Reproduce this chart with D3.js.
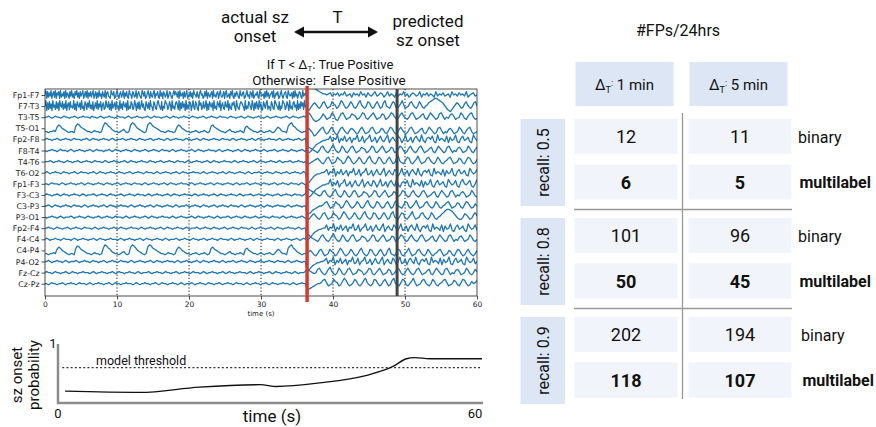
<!DOCTYPE html>
<html><head><meta charset="utf-8">
<script src="https://cdn.jsdelivr.net/npm/d3@7"></script>
<style>body{margin:0;background:#fff}svg{display:block}</style>
</head><body><svg id="c" width="876" height="427"></svg>
<script>
// ---------------- DATA ----------------
const channels = ["Fp1-F7","F7-T3","T3-T5","T5-O1","Fp2-F8","F8-T4","T4-T6","T6-O2","Fp1-F3","F3-C3","C3-P3","P3-O1","Fp2-F4","F4-C4","C4-P4","P4-O2","Fz-Cz","Cz-Pz"];
const xTicks = [0,10,20,30,40,50,60];
const gridTimes = [10,20,30,40,50];
const onsetTime = 36.4;      // actual sz onset (s)
const predictedTime = 48.9;  // predicted sz onset (s)
// per-channel DC offset (signal units)
const dcOffset = [0,0,0,-3,0,0,0,0,0,0,0,0,0,0,-3,0,0,0];
// traces, one char per sample; 'M' = 0, each letter step = 1 unit
const preTraces = [
"MQJPKOLQJNPKQJOMPJQKNLPJQKOMJPLQKNJPMQKOJPLNQJMPKQJOLPKNQJMPJOKQLNJPMKQJOPLKJQNMPJKOQLJNPKMQJOLPKJQNMJPOKLQJNPMKJQOLPJKNQMJPLKOQJNMPKJQLOJPNKMQJLPOKJNQMPNKPJQLMOJPKNQJMLPKOJQNMKPLJOQMNJKPLQJOMKNPJQLMKOPJNQLKMPJOQKLNJPMQKJOLPNKJQMLOPJKNQLMJPOKQJLNMPKJQOLMNJPKQLOJMNPKQJLOMPJKNQLJMOPKJQNLMOJPKQLNJMPOKJQLNMP",
"MRIPJQKOIRLNJQKPIRMLQJOKRINPJQLMKRJOIQNLPJRKMIQOJPLRKNJQIMPKRJOLQINPJKRMLQJOIRKNPJQLMIRKOJQNLPIRJMKQOJLRNIPKQJMRLOJIQNKPJRMLIQOKJPRNLJQIMKRPOJLQNIRKMJPQNJRIPKQLOIRJNKQPIMRLJQOKIRNPJLQKMRIOJQNLPIRKMJQOLRINPKJQMLRIOKJPNQLIRMKJOQPNLIRJMKQOLJRNIPKQMJRLOIJQNKPRJMLIQOKJRPNLJQIMKRPOJLQNIRKMJPQLNIRJOKQMPJRLN",
"MMNMLMNMMLMNMMLMMNMLMMNMMMLNMMLMNMLMMNMMLMNMMMLMNMLMMNMMLMMNMLMNMMMLMMNMLMNMMLMMNMMLMNMMLMMNMLMMNMMLMNMMMLMNMMLMMNMLMNMMLMMNMMLMNMLMMNMMLMMNMLMNMMLMMNM",
"MMLMMNMQSRPONMLMMLRTSQPONMMLMNMMLMRUTRQONMMLMNOMLMSUTRPONMLMSUTRQPONMMLMNMMLMQSRPONMMLMMNMLMMNMLMRSQPONMMLMNOMMLMMNMLQRPONMMLMNMLMMNMLMOQPNMMLRTURQONMLMM",
"MNMMLMMNMLMMNMMLMNMMMLMMNMLMNMMLMMNMMLMNMLMMMNMLMMNMMLMNMMLMMNMLMMNMMLMNMLMMNMMMLMNMMLMMNMLMNMMLMMNMMLMNMMMLMNMLMMNMMLMMNMLMNMMLMMNMMMLMNMLMMNMMLMMNMLMN",
"MLMMNMMLMNMMMLMNMLMMNMMLMMNMLMNMMMLMMNMLMNMMLMMNMMLMNMMLMMNMLMMNMMLMNMMMLMNMLMMNMMLMMNMLMNMMLMMNMMMLMNMLMMNMMLMMNMLMNMMLMMNMMLMNMLMMMNMLMMNMMLMNMMLMMNML",
"MMMNMLMMNMMLMNMMLMMNMLMMNMMLMNMMMLMNMLMMNMMLMMNMLMNMMLMMNMMLMNMMLMMNMLMMNMMLMNMMMLMNMLMMNMMLMMNMLMNMMLMMNMMMLMNMLMMNMMLMMNMLMNMMLMMNMMLMNMLMMMNMLMMNMMLM",
"MNMLMMNMMLMNMMLMMNMLMNMMMLMMNMLMNMMLMMNMMLMNMMLMMNMLMMNMMLMNMMMLMNMLMMNMMLMMNMLMNMMLMMNMMMLMNMLMMNMMLMMNMLMNMMLMMNMMLMNMLMMMNMLMMNMMLMNMMLMMNMLMMNMMLMNM",
"MMLMNMMMLMNMLMMNMMLMMNMLMNMMLMMNMMLMNMMLMMNMLMMNMMLMNMMMLMNMLMMNMMLMMNMLMNMMLMMNMMMLMNMLMMNMMLMMNMLMNMMLMMNMMLMNMLMMMNMLMMNMMLMNMMLMMNMLMMNMMLMNMMMLMNML",
"MNMMLMMNMLMNMMLMMNMMLMNMLMMMNMLMMNMMLMNMMLMMNMLMMNMMLMNMMMLMNMLMMNMMLMMNMLMNMMLMMNMMMLMNMLMMNMMLMMNMLMNMMLMMNMMLMNMLMMMNMLMMNMMLMNMMLMMNMLMMNMMLMNMMMLMN",
"MMNMLMNMMLMMNMMLMNMMMLMNMLMMNMMLMMNMLMNMMLMMNMMMLMNMLMMNMMLMMNMLMNMMLMMNMMLMNMLMMMNMLMMNMMLMNMMLMMNMLMMNMMLMNMMMLMNMLMMNMMLMMNMLMNMMLMMNMMMLMNMLMMNMMLMM",
"MLMMNMMLMNMLMMMNMLMMNMMLMNMMLMMNMLMMNMMLMNMMMLMNMLMMNMMLMMNMLMNMMLMMNMMMLMNMLMMNMMLMMNMLMNMMLMMNMMLMNMLMMMNMLMMNMMLMNMMLMMNMLMMNMMLMNMMMLMNMLMMNMMLMMNML",
"MMNMMLMNMMLMMNMLMMNMMLMNMMMLMNMLMMNMMLMMNMLMNMMLMMNMMMLMNMLMMNMMLMMNMLMNMMLMMNMMLMNMLMMMNMLMMNMMLMNMMLMMNMLMMNMMLMNMMMLMNMLMMNMMLMMNMLMNMMLMMNMMMLMNMLMM",
"MNMLMMNMMLMNMMMLMNMLMMNMMLMMNMLMNMMLMMNMMMLMNMLMMNMMLMMNMLMNMMLMMNMMLMNMLMMMNMLMMNMMLMNMMLMMNMLMMNMMLMNMMMLMNMLMMNMMLMMNMLMNMMLMMNMMMLMNMLMMNMMLMMNMLMNM",
"MMLMMNMQSRPONMLMMLRTSQPONMMLMNMMLMRUTRQONMMLMNOMLMSUTRPONMLMSUTRQPONMMLMNMMLMQSRPONMMLMMNMLMMNMLMRSQPONMMLMNOMMLMMNMLQRPONMMLMNMLMMNMLMOQPNMMLRTURQONMLMM",
"MMNMLMMNMMLMNMLMMMNMLMMNMMLMNMMLMMNMLMMNMMLMNMMMLMNMLMMNMMLMMNMLMNMMLMMNMMMLMNMLMMNMMLMMNMLMNMMLMMNMMLMNMLMMMNMLMMNMMLMNMMLMMNMLMMNMMLMNMMMLMNMLMMNMMLMM",
"MNMMLMNMMLMMNMLMNMMLMMNMMMLMNMLMMNMMLMMNMLMNMMLMMNMMLMNMLMMMNMLMMNMMLMNMMLMMNMLMMNMMLMNMMMLMNMLMMNMMLMMNMLMNMMLMMNMMMLMNMLMMNMMLMMNMLMNMMLMMNMMLMNMLMMMN",
"MMLMNMMLMMNMLMMNMMLMNMMMLMNMLMMNMMLMMNMLMNMMLMMNMMMLMNMLMMNMMLMMNMLMNMMLMMNMMLMNMLMMMNMLMMNMMLMNMMLMMNMLMMNMMLMNMMMLMNMLMMNMMLMMNMLMNMMLMMNMMMLMNMLMMNMM"
];
const postTraces = [
"TVUTSRQPONNMNOLNMOLNMPLMNKOMNLPMNKOMLNPLMONKMPLNMKOLNMPLNKMONLMPKNMOLNMKPLNMOLMNKPMNLOMNLPKMNOLM",
"JIKMOPNLKMPQNKLMQONKLORPMKLNQOLKMPRNLKMQPMKLOQNKLPRMLKNQPLKMORNKLMPQNLKMQOLKMNPQRSTTSRQPNLJIHJLNPOMKLOQNLKMPQM",
"PQOLJIJKMPNKLMQOKJMPQNKLMPONKLNQPLKMOQNKLMPOKLNQPMKLOQNLKMPQNKLMOPLKNQOMKLPQNKMLOPNKLMQOLKNPQMKL",
"NPNLIJLNPQMKLOQNKJMPQNLKNPOMKLOQNKLMPQNKLMPOLKNQPMKLOQNLKMPQNKLMOPLKNQOMKLPQNKMLOPNKLMQOLKNPQMKLM",
"AABDFHIJKLLMMPKNMQJNLPKMOJNMQKLPJMNQKLOJMPLKNQJMOLKPNJMQKLOJNPMKQLJNOMPKJQLNMKPJOLMQKJNPLMOKJQNL",
"QPONMLKMPQNLKMPRNLKMQOLKMPQNKLMPONKLNQPLKMOQNKLMPOKLNQPMKLOQNLKMPQNKLMOPLKNQOMKLPQNKMLOPNKLMQOLKNP",
"JKLMNOPNLKMPQNKLMQONKLORPMKLNQOLKMPRNLKMQPMKLOQNKLPRMLKNQPLKMORNKLMPQNLKMQOLKMNPQNKLMPOLKNQPMKLO",
"DDFHJKLLMMNPKNMQJNLPKMOJNMQKLPJMNQKLOJMPLKNQJMOLKPNJMQKLOJNPMKQLJNOMPKJQLNMKPJOLMQKJNPLMOKJQNLMP",
"AABDFHIJKLLMMQKNLPJMNQKLOJMPLKNQJMOLKPNJMQKLOJNPMKQLJNOMPKJQLNMKPJOLMQKJNPLMOKJQNLMPKJOQMLNPKJMQ",
"SRQPONMLMPQNLKMPRNLKMQOLKMPQNKLMPONKLNQPLKMOQNKLMPOKLNQPMKLOQNLKMPQNKLMOPLKNQOMKLPQNKMLOPNKLMQOLK",
"FFGIJKLMMNPQNKLMQONKLORPMKLNQOLKMPRNLKMQPMKLOQNKLPRMLKNQPLKMORNKLMPQNLKMQOLKMNPQNKLMPOLKNQPMKLOM",
"LKMOPNLKMPQNKLMQONKLORPMKLNQOLKMPRNLKMQPMKLOQNKLPRMLKNQPLKMORNKLMPQNLKMQOLKMNPQSTTSRPNLKKMPOMKLOQN",
"CCEGIJKLLMMPKNMQJNLPKMOJNMQKLPJMNQKLOJMPLKNQJMOLKPNJMQKLOJNPMKQLJNOMPKJQLNMKPJOLMQKJNPLMOKJQNLMPK",
"RQONMLKMPQNLKMPRNLKMQOLKMPQNKLMPONKLNQPLKMOQNKLMPOKLNQPMKLOQNLKMPQNKLMOPLKNQOMKLPQNKMLOPNKLMQOLKM",
"NOPNLKMPQNKLMQONKLORPMKLNQOLKMPRNLKMQPMKLOQNKLPRMLKNQPLKMORNKLMPQNLKMQOLKMNPQNKLMPOLKNQPMKLOQNLKMP",
"EEGIJKLLMMNPKNMQJNLPKMOJNMQKLPJMNQKLOJMPLKNQJMOLKPNJMQKLOJNPMKQLJNOMPKJQLNMKPJOLMQKJNPLMOKJQNLMPKM",
"PONMLMPQNLKMPRNLKMQOLKMPQNKLMPONKLNQPLKMOQNKLMPOKLNQPMKLOQNLKMPQNKLMOPLKNQOMKLPQNKMLOPNKLMQOLKMPN",
"HHIJKLMMNPQNKLMQONKLORPMKLNQOLKMPRNLKMQPMKLOQNKLPRMLKNQPLKMORNKLMPQNLKMQOLKMNPQNKLMPOLKNQPMKLOMNP"
];
// bottom panel: seizure-onset probability
const probTimes  = [1, 11.6, 20, 28.6, 30.9, 37, 43.7, 47.4, 49.3, 50.5, 52.6, 60];
const probValues = [0.20, 0.18, 0.27, 0.31, 0.28, 0.34, 0.47, 0.62, 0.75, 0.77, 0.75, 0.75];
const threshold = 0.6;
// table: #FPs/24hrs
const deltaLabels = ["1 min", "5 min"];
const recallLabels = ["recall: 0.5", "recall: 0.8", "recall: 0.9"];
const binaryFP = [[12, 11], [101, 96], [202, 194]];
const multilabelFP = [[6, 5], [50, 45], [118, 107]];

// ---------------- DRAW ----------------
const svg = d3.select("#c");
const RB = "Roboto, 'Open Sans', sans-serif";
const MPL = "'DejaVu Sans', sans-serif";

// ---- top annotation ----
const topG = svg.append("g").attr("font-family", RB).attr("fill", "#111");
topG.append("text").attr("x", 255).attr("y", 23).attr("text-anchor", "middle").attr("font-size", 17).text("actual sz");
topG.append("text").attr("x", 255).attr("y", 42).attr("text-anchor", "middle").attr("font-size", 17).text("onset");
topG.append("text").attr("x", 337.5).attr("y", 23).attr("text-anchor", "middle").attr("font-size", 17).text("T");
topG.append("text").attr("x", 428).attr("y", 27).attr("text-anchor", "middle").attr("font-size", 17).text("predicted");
topG.append("text").attr("x", 428).attr("y", 46).attr("text-anchor", "middle").attr("font-size", 17).text("sz onset");
// double arrow
topG.append("line").attr("x1", 300).attr("x2", 372).attr("y1", 32).attr("y2", 32).attr("stroke", "#111").attr("stroke-width", 2.5);
topG.append("path").attr("d", "M294,32 L304,26.5 L304,37.5 Z").attr("fill", "#111");
topG.append("path").attr("d", "M378,32 L368,26.5 L368,37.5 Z").attr("fill", "#111");
const t1 = topG.append("text").attr("x", 330).attr("y", 69).attr("text-anchor", "middle").attr("font-size", 13);
t1.append("tspan").text("If T < Δ");
t1.append("tspan").attr("font-size", 8).attr("dy", 2).text("T");
t1.append("tspan").attr("dy", -2).text(": True Positive");
topG.append("text").attr("x", 329).attr("y", 84.5).attr("text-anchor", "middle").attr("font-size", 13.5).attr("xml:space", "preserve").text("Otherwise:  False Positive");

// ---- EEG panel ----
const L = 45, R = 477, T = 89, B = 296;
const x = d3.scaleLinear().domain([0, 60]).range([L, R]);
const yCh = d3.scalePoint().domain(channels).range([95, 283.7]);
const sig = d3.scaleLinear().domain([-10, 10]).range([11, -11]);
const dec = ch => ch.charCodeAt(0) - 77;

svg.append("defs").append("clipPath").attr("id", "eegclip")
  .append("rect").attr("x", L).attr("y", T).attr("width", R - L).attr("height", B - T);

const eeg = svg.append("g");
// dotted grid
eeg.selectAll("line.grid").data(gridTimes).join("line")
  .attr("x1", d => x(d)).attr("x2", d => x(d)).attr("y1", T).attr("y2", B)
  .attr("stroke", "#111").attr("stroke-width", 1).attr("stroke-dasharray", "1.2,2");

const line = d3.line().x(d => x(d.t)).y(d => d.y);
const traces = eeg.append("g").attr("clip-path", "url(#eegclip)");
channels.forEach((ch, i) => {
  const pre = preTraces[i].split("");
  const post = postTraces[i].split("");
  const base = yCh(ch);
  const pts = [];
  pre.forEach((c, j) => pts.push({ t: j * onsetTime / pre.length, y: base + sig(dec(c) + dcOffset[i]) - sig(0) }));
  post.forEach((c, j) => pts.push({ t: onsetTime + j * (60 - onsetTime) / (post.length - 1), y: base + sig(dec(c) + dcOffset[i]) - sig(0) }));
  traces.append("path").attr("d", line(pts)).attr("fill", "none")
    .attr("stroke", "#1f77b4").attr("stroke-width", 1.3).attr("stroke-linejoin", "round");
});

// frame
eeg.append("rect").attr("x", L).attr("y", T).attr("width", R - L).attr("height", B - T)
  .attr("fill", "none").attr("stroke", "#222").attr("stroke-width", 0.8);

// axes
const xAxis = d3.axisBottom(x).tickValues(xTicks).tickSize(3.5).tickPadding(2);
const gx = eeg.append("g").attr("transform", `translate(0,${B})`).call(xAxis);
gx.select(".domain").remove();
gx.selectAll("text").attr("font-family", MPL).attr("font-size", 7.5).attr("fill", "#222");
gx.selectAll("line").attr("stroke", "#222").attr("stroke-width", 0.8);
eeg.append("text").attr("x", (L + R) / 2).attr("y", 316).attr("text-anchor", "middle")
  .attr("font-family", MPL).attr("font-size", 7).attr("fill", "#222").text("time (s)");

const yAxis = d3.axisLeft(yCh).tickSize(3.5).tickPadding(2);
const gy = eeg.append("g").attr("transform", `translate(${L},0)`).call(yAxis);
gy.select(".domain").remove();
gy.selectAll("text").attr("font-family", MPL).attr("font-size", 7.8).attr("fill", "#222");
gy.selectAll("line").attr("stroke", "#222").attr("stroke-width", 0.8);

// onset markers
eeg.append("line").attr("x1", x(onsetTime)).attr("x2", x(onsetTime)).attr("y1", 86).attr("y2", 302)
  .attr("stroke", "#d63a2c").attr("stroke-width", 3.5);
eeg.append("line").attr("x1", x(predictedTime)).attr("x2", x(predictedTime)).attr("y1", T).attr("y2", B)
  .attr("stroke", "#444").attr("stroke-width", 3);

// ---- probability panel ----
const xP = d3.scaleLinear().domain([0, 60]).range([58, 482]);
const yP = d3.scaleLinear().domain([0, 1]).range([403, 344]);
const prob = svg.append("g").attr("font-family", RB).attr("fill", "#111");
prob.append("line").attr("x1", xP(0)).attr("x2", xP(0)).attr("y1", yP(1)).attr("y2", yP(0) + 1)
  .attr("stroke", "#8c8c8c").attr("stroke-width", 2.5);
prob.append("line").attr("x1", xP(0) - 1).attr("x2", xP(60) + 1).attr("y1", yP(0)).attr("y2", yP(0))
  .attr("stroke", "#8c8c8c").attr("stroke-width", 2.5);
prob.append("line").attr("x1", xP(0.6)).attr("x2", xP(60)).attr("y1", yP(threshold)).attr("y2", yP(threshold))
  .attr("stroke", "#333").attr("stroke-width", 1.2).attr("stroke-dasharray", "2,2.2");
prob.append("text").attr("x", 96).attr("y", 365).attr("font-size", 12.5).text("model threshold");
const pData = probTimes.map((t, i) => ({ t, v: probValues[i] }));
prob.append("path").attr("d", d3.line().x(d => xP(d.t)).y(d => yP(d.v)).curve(d3.curveMonotoneX)(pData))
  .attr("fill", "none").attr("stroke", "#111").attr("stroke-width", 1.3);
prob.append("text").attr("x", 53).attr("y", 348).attr("text-anchor", "middle").attr("font-size", 13).text("1");
prob.append("text").attr("x", xP(0)).attr("y", 418).attr("text-anchor", "middle").attr("font-size", 13).text("0");
prob.append("text").attr("x", xP(60) - 7).attr("y", 418).attr("text-anchor", "middle").attr("font-size", 13).text("60");
prob.append("text").attr("x", 272).attr("y", 422).attr("text-anchor", "middle").attr("font-size", 17).text("time (s)");
prob.append("text").attr("transform", "translate(22,375) rotate(-90)").attr("text-anchor", "middle").attr("font-size", 15).text("sz onset");
prob.append("text").attr("transform", "translate(39,375) rotate(-90)").attr("text-anchor", "middle").attr("font-size", 15).text("probability");

// ---- table ----
const tb = svg.append("g").attr("font-family", RB).attr("fill", "#111");
tb.append("text").attr("x", 678).attr("y", 35.5).attr("text-anchor", "middle").attr("font-size", 16).text("#FPs/24hrs");
const colX = d3.scalePoint().domain(deltaLabels).range([574.5, 688.5]);
const grpY = d3.scalePoint().domain(recallLabels).range([119, 317]);
const cellW = 103, cellH = 35, rowOff = 45.5;
const HEAD = "#dde6f5", CELL = "#f1f4fa";

deltaLabels.forEach(d => {
  const cx = colX(d) + cellW / 2 - 1.5;
  tb.append("rect").attr("x", cx - 49).attr("y", 62).attr("width", 98).attr("height", 44).attr("fill", HEAD);
  const tx = tb.append("text").attr("x", cx).attr("y", 89.5).attr("text-anchor", "middle").attr("font-size", 15);
  tx.append("tspan").text("Δ");
  tx.append("tspan").attr("font-size", 9).attr("dy", 3).text("T");
  tx.append("tspan").attr("font-size", 9).attr("dy", -7).text(":");
  tx.append("tspan").attr("dy", 4).text(" " + d);
});

// dividers
tb.append("line").attr("x1", 682.5).attr("x2", 682.5).attr("y1", 113).attr("y2", 399).attr("stroke", "#999").attr("stroke-width", 1.3);
recallLabels.slice(0, 2).forEach(r => {
  tb.append("line").attr("x1", 574).attr("x2", 792).attr("y1", grpY(r) + 90.5).attr("y2", grpY(r) + 90.5)
    .attr("stroke", "#999").attr("stroke-width", 1.3);
});

recallLabels.forEach((r, gi) => {
  const gy0 = grpY(r);
  tb.append("rect").attr("x", 520.5).attr("y", gy0).attr("width", 44.5).attr("height", 87).attr("fill", HEAD);
  tb.append("text").attr("transform", `translate(548.5,${gy0 + 43.5}) rotate(-90)`).attr("text-anchor", "middle")
    .attr("font-size", 16).text(r);
  deltaLabels.forEach((d, ci) => {
    const cx = colX(d);
    [[binaryFP, 0, 400], [multilabelFP, rowOff, 700]].forEach(([arr, off, w]) => {
      tb.append("rect").attr("x", cx).attr("y", gy0 + off).attr("width", cellW).attr("height", cellH).attr("fill", CELL);
      tb.append("text").attr("x", cx + cellW / 2).attr("y", gy0 + off + cellH / 2 + 6.5).attr("text-anchor", "middle")
        .attr("font-size", 18).attr("font-weight", w).text(arr[gi][ci]);
    });
  });
  const lx = gi === 2 ? 801 : 798;
  tb.append("text").attr("x", lx).attr("y", gy0 + 24).attr("font-size", 16).text("binary");
  tb.append("text").attr("x", lx + 1.5).attr("y", gy0 + 69).attr("font-size", 16).attr("font-weight", 700).text("multilabel");
});
</script></body></html>
